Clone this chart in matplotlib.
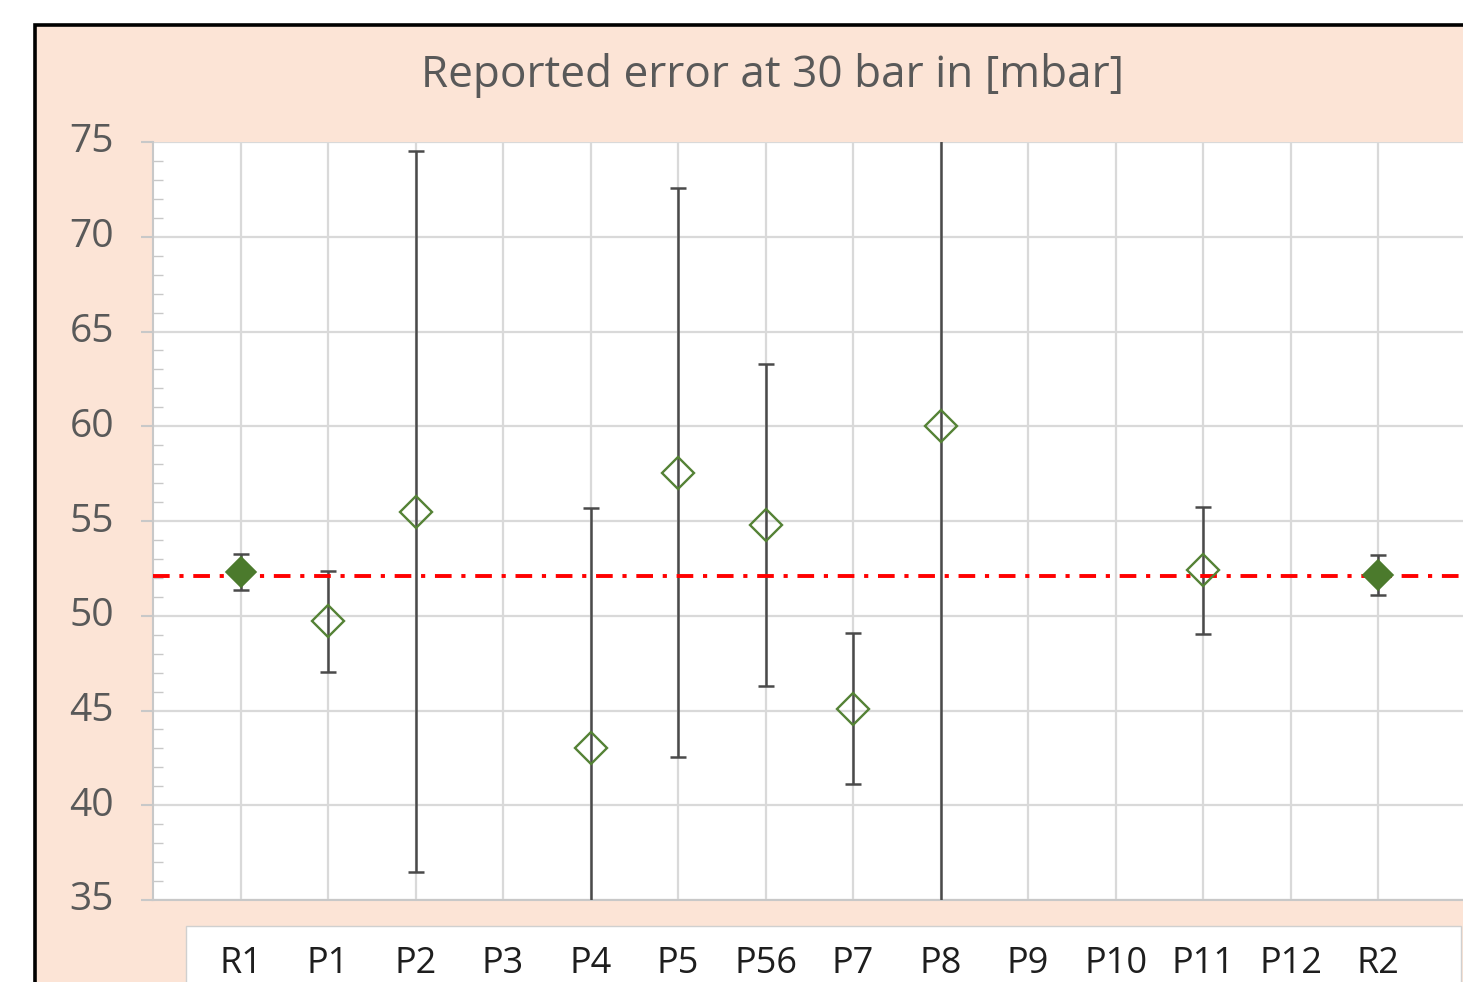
import numpy as np
import matplotlib
matplotlib.use("Agg")
import matplotlib.pyplot as plt
from matplotlib.patches import Rectangle
from matplotlib.ticker import MultipleLocator
import matplotlib.transforms as mtransforms

plt.rcParams['font.family'] = ['Open Sans', 'DejaVu Sans']
plt.rcParams['lines.scale_dashes'] = False

# data
categories = ['R1', 'P1', 'P2', 'P3', 'P4', 'P5', 'P56', 'P7', 'P8',
              'P9', 'P10', 'P11', 'P12', 'R2']
values = [52.3, 49.7, 55.5, np.nan, 43.0, 57.55, 54.8, 45.1, 60.0,
          np.nan, np.nan, 52.4, np.nan, 52.15]
errors = [0.95, 2.65, 19.0, np.nan, 12.7, 15.0, 8.5, 4.0, 30.0,
          np.nan, np.nan, 3.35, np.nan, 1.05]
is_reference = [True, False, False, False, False, False, False, False, False,
                False, False, False, False, True]
ref_value = 52.1

peach = '#FCE4D6'
green = '#548235'
grey_txt = '#595959'

W, H = 1463, 982
fig = plt.figure(figsize=(W / 100, H / 100), dpi=100)
fig.patch.set_facecolor('white')

# peach chart area with black frame (cropped on right / bottom)
fig.patches.append(Rectangle((35 / W, -0.05), 1.2, 1 - 25 / H + 0.05,
                             transform=fig.transFigure, facecolor=peach,
                             edgecolor='black', linewidth=2.6, zorder=0))
# white box under the plot holding the category labels
fig.patches.append(Rectangle((186 / W, -0.05), (1461 - 186) / W, 1 - 926 / H + 0.05,
                             transform=fig.transFigure, facecolor='white',
                             edgecolor='#D0D0D0', linewidth=1.0, zorder=0.5))

ax = fig.add_axes([153 / W, 1 - 900 / H, 1 - 153 / W, (900 - 142) / H])
ax.set_zorder(2)
ax.set_facecolor('white')

x = np.arange(1, len(categories) + 1)
vals = np.array(values)
errs = np.array(errors)
refm = np.array(is_reference)

ax.errorbar(x, vals, yerr=errs, fmt='none', ecolor='#4A4A4A',
            elinewidth=1.8, capsize=6, capthick=1.8, zorder=3)

ax.axhline(ref_value, color='#FF0000', linewidth=2.8, dashes=(12, 7, 3, 7), zorder=4)

ax.plot(x[~refm], vals[~refm], linestyle='none', marker='D', markersize=16,
        markerfacecolor='none', markeredgecolor=green, markeredgewidth=1.7, zorder=5)
ax.plot(x[refm], vals[refm], linestyle='none', marker='D', markersize=15,
        markerfacecolor='#4B7A2C', markeredgecolor='#4B7A2C', markeredgewidth=1.2, zorder=5)

ax.set_xlim(0, 14.97)
ax.set_ylim(35, 75)
ax.set_xticks(x)
ax.set_xticklabels(categories)
ax.yaxis.set_major_locator(MultipleLocator(5))
ax.yaxis.set_minor_locator(MultipleLocator(1))

ax.grid(True, which='major', color='#D9D9D9', linewidth=1.6, zorder=0)
ax.set_axisbelow(True)

for side in ['top', 'right']:
    ax.spines[side].set_visible(False)
for side in ['left', 'bottom']:
    ax.spines[side].set_color('#C8C8C8')
    ax.spines[side].set_linewidth(1.5)

ax.tick_params(axis='y', which='major', direction='out', length=9, width=1.5,
               color='#C8C8C8', labelsize=28, labelcolor=grey_txt, pad=19)
ax.tick_params(axis='y', which='minor', direction='in', length=7, width=1.0,
               color='#C8C8C8')
ax.tick_params(axis='x', which='major', length=0, labelsize=26,
               labelcolor='#1E1E1E', pad=33)

for lab in ax.get_yticklabels():
    lab.set_transform(lab.get_transform() +
                      mtransforms.ScaledTranslation(0, 4 / 100, fig.dpi_scale_trans))

fig.text(772 / W, 1 - 75 / H, 'Reported error at 30 bar in [mbar]',
         ha='center', va='center', fontsize=31.8, color=grey_txt)

fig.savefig('out.png', dpi=100, facecolor=fig.get_facecolor())
